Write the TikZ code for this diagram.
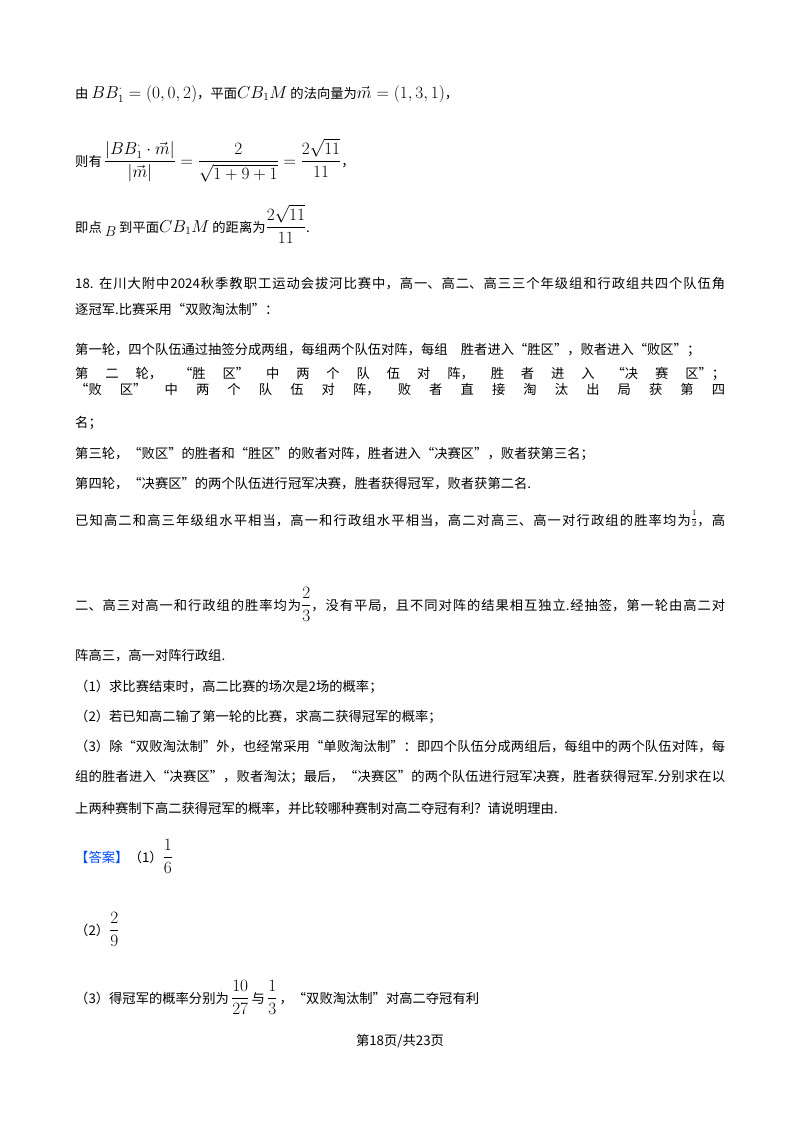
\documentclass[tikz,border=0pt]{standalone}
\usepackage{amsmath}
\usepackage{fontspec}
\setmainfont{Noto Sans CJK SC}
\XeTeXlinebreaklocale "zh"
\XeTeXlinebreakskip=0pt plus 3pt
\newcommand{\fs}{\fontsize{13.3}{16}\selectfont}
\newcommand{\fm}{\fontsize{16}{19}\selectfont}
\newcommand{\jl}[1]{\parbox[b]{650pt}{\parfillskip=0pt\relax #1}}
\begin{document}
\begin{tikzpicture}[x=1pt,y=-1pt,
  t/.style={anchor=base west,inner sep=0pt,font=\fs},
  ans/.style={t,text=blue!70!cyan}]
\useasboundingbox (0,0) rectangle (800,1132);
\fill[white] (0,0) rectangle (800,1132);
\node[t] (l1) at (75,98) {由 {\fm$BB_1^{\cdot}=\left(0,0,2\right)$}，平面{\fm$CB_1M$} 的法向量为{\fm$\vec{m}=\left(1,3,1\right)$}，};
\node[t] (l2) at (75,166) {则有\,{\fm$\dfrac{\left|BB_1^{\cdot}\cdot\vec m\right|}{\left|\vec m\right|}=\dfrac{2}{\sqrt{1+9+1}}=\dfrac{2\sqrt{11}}{11}$}，};
\node[t] (l3) at (75,232) {即点 \raisebox{-4pt}{$B$} 到平面{\fm$CB_1M$} 的距离为{\fm$\dfrac{2\sqrt{11}}{11}$}.};
\node[t] (p1) at (75,288) {\jl{18. 在川大附中2024秋季教职工运动会拔河比赛中，高一、高二、高三三个年级组和行政组共四个队伍角}};
\node[t] (p2) at (75,314) {逐冠军.比赛采用“双败淘汰制”：};
\node[t] (p3) at (75,354) {第一轮，四个队伍通过抽签分成两组，每组两个队伍对阵，每组\quad 胜者进入“胜区”，败者进入“败区”；};
\node[t] (p4) at (75,394) {\jl{第二轮，“胜区”中两个队伍对阵，胜者进入“决赛区”；“败区”中两个队伍对阵，败者直接淘汰出局获第四}};
\node[t] (p5) at (75,427) {名；};
\node[t] (p6) at (75,458) {第三轮，“败区”的胜者和“胜区”的败者对阵，胜者进入“决赛区”，败者获第三名；};
\node[t] (p7) at (75,488) {第四轮，“决赛区”的两个队伍进行冠军决赛，胜者获得冠军，败者获第二名.};
\node[t] (p8) at (75,525) {\jl{已知高二和高三年级组水平相当，高一和行政组水平相当，高二对高三、高一对行政组的胜率均为\raisebox{4pt}{\footnotesize$\dfrac12$}，高}};
\node[t] (p9) at (75,610) {\jl{二、高三对高一和行政组的胜率均为{\fm$\dfrac{2}{3}$}，没有平局，且不同对阵的结果相互独立.经抽签，第一轮由高二对}};
\node[t] (p10) at (75,660) {阵高三，高一对阵行政组.};
\node[t] (q1) at (75,691) {（1）求比赛结束时，高二比赛的场次是2场的概率；};
\node[t] (q2) at (75,721) {（2）若已知高二输了第一轮的比赛，求高二获得冠军的概率；};
\node[t] (q3) at (75,751) {\jl{（3）除“双败淘汰制”外，也经常采用“单败淘汰制”：即四个队伍分成两组后，每组中的两个队伍对阵，每}};
\node[t] (q4) at (75,781) {\jl{组的胜者进入“决赛区”，败者淘汰；最后，“决赛区”的两个队伍进行冠军决赛，胜者获得冠军.分别求在以}};
\node[t] (q5) at (75,813) {上两种赛制下高二获得冠军的概率，并比较哪种赛制对高二夺冠有利？请说明理由.};
\node[ans] (a0) at (75,862) {【答案】};
\node[t] (a1) at (a0.base east) [anchor=base west] {（1）{\fm$\dfrac16$}};
\node[t] (a2) at (75,935) {（2）{\fm$\dfrac29$}};
\node[t] (a3) at (75,1003) {（3）得冠军的概率分别为\,{\fm$\dfrac{10}{27}$}\,与\,{\fm$\dfrac13$}\,，“双败淘汰制”对高二夺冠有利};
\node[t,anchor=base] (ft) at (400,1045) {第18页/共23页};
\end{tikzpicture}
\end{document}
